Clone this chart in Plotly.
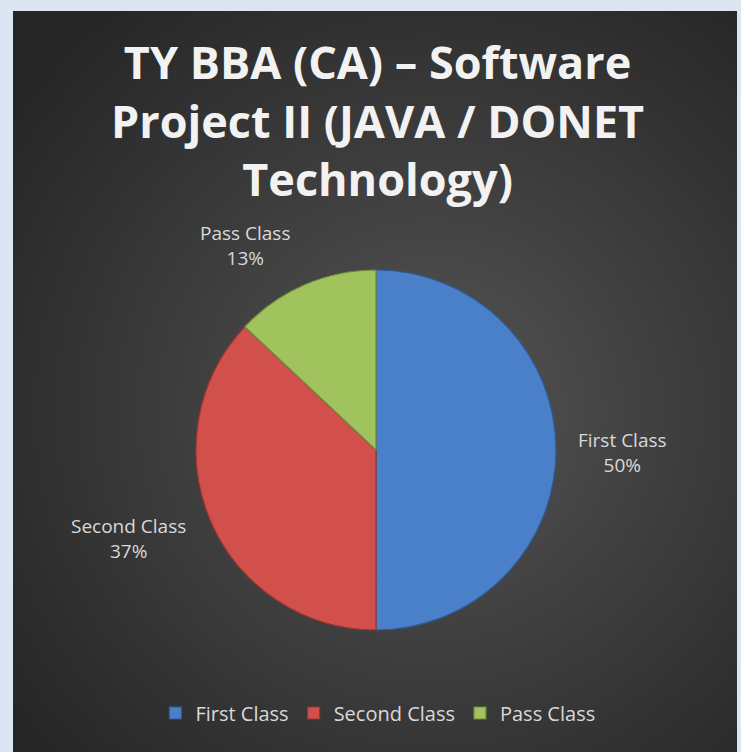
import base64, struct, zlib
import numpy as np
import plotly.graph_objects as go

# ---- data ----
categories = ["First Class", "Second Class", "Pass Class"]
values = [50, 37, 13]
colors = ["#4a7fc9", "#d2504c", "#a1c35d"]
line_colors = ["#2f5c99", "#9a3532", "#6e8a3a"]
title_text = "TY BBA (CA) – Software<br>Project II (JAVA / DONET<br>Technology)"

W, H = 741, 752

# ---- radial gradient background image (PNG written by hand) ----
def make_png(arr):
    h, w, _ = arr.shape
    raw = b"".join(b"\x00" + arr[i].tobytes() for i in range(h))
    def chunk(tag, data):
        c = struct.pack(">I", len(data)) + tag + data
        return c + struct.pack(">I", zlib.crc32(tag + data) & 0xFFFFFFFF)
    png = b"\x89PNG\r\n\x1a\n"
    png += chunk(b"IHDR", struct.pack(">IIBBBBB", w, h, 8, 2, 0, 0, 0))
    png += chunk(b"IDAT", zlib.compress(raw, 9))
    png += chunk(b"IEND", b"")
    return png

bx0, by0, bx1, by1 = 13, 11, 737, 752
bw, bh = bx1 - bx0, by1 - by0
yy, xx = np.mgrid[0:bh, 0:bw]
cx, cy = 430 - bx0, 410 - by0
d = np.sqrt((xx - cx) ** 2 + (yy - cy) ** 2) / 520.0
d = np.clip(d, 0, 1)
inner, outer = 88.0, 38.0
g = (inner + (outer - inner) * d ** 0.9).astype(np.uint8)
img = np.stack([g, g, g], axis=-1)
uri = "data:image/png;base64," + base64.b64encode(make_png(img)).decode()

# ---- pie ----
fig = go.Figure(go.Pie(
    labels=categories,
    values=values,
    sort=False,
    direction="clockwise",
    rotation=0,
    textinfo="none",
    hoverinfo="label+percent",
    marker=dict(colors=colors, line=dict(color=line_colors, width=1.2)),
    domain=dict(x=[196 / W, 556 / W], y=[1 - 630 / H, 1 - 270 / H]),
    showlegend=True,
))

total = sum(values)
label_pos = [(622, 452), (128, 538), (245, 245)]
for cat, v, (lx, ly) in zip(categories, values, label_pos):
    fig.add_annotation(
        x=lx / W, y=1 - ly / H, xref="paper", yref="paper",
        xanchor="center", yanchor="middle",
        text=f"{cat}<br>{round(100 * v / total)}%",
        showarrow=False, align="center",
        font=dict(family="Open Sans, sans-serif", size=19, color="#d9d9d9"),
    )

# title as annotation for exact placement
fig.add_annotation(
    x=377 / W, y=1 - 29 / H, xref="paper", yref="paper",
    xanchor="center", yanchor="top", showarrow=False, align="center",
    text=title_text,
    font=dict(family="Open Sans, sans-serif", size=45, color="#f2f2f2", weight="bold"),
)

fig.update_layout(
    width=W, height=H,
    margin=dict(l=0, r=0, t=0, b=0),
    paper_bgcolor="#dce6f2",
    plot_bgcolor="rgba(0,0,0,0)",
    images=[dict(source=uri, xref="paper", yref="paper",
                 x=bx0 / W, y=1 - by0 / H, sizex=bw / W, sizey=bh / H,
                 xanchor="left", yanchor="top", sizing="stretch", layer="below")],
    legend=dict(orientation="h", x=0.51, xanchor="center", y=1 - 713 / H,
                yanchor="middle", font=dict(family="Open Sans, sans-serif",
                                            size=20, color="#d9d9d9"),
                bgcolor="rgba(0,0,0,0)", itemclick=False),
)

fig.write_html("out.html", config={"displayModeBar": False},
               post_script="document.body.style.margin='0px';document.body.style.overflow='hidden';")
